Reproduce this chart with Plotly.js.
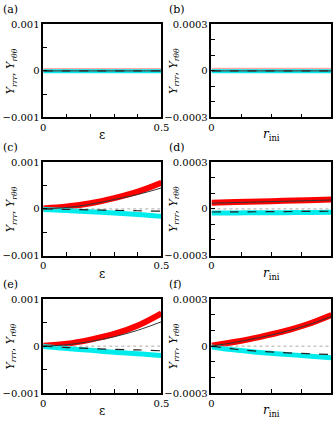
<!DOCTYPE html>
<html>
<head>
<meta charset="utf-8">
<script src="https://cdn.plot.ly/plotly-3.0.1.min.js"></script>
<style>
  html, body { margin: 0; padding: 0; background: #fff; }
  #fig { width: 334px; height: 422px; }
</style>
</head>
<body>
<div id="fig"></div>
<script>
// absis: strain eps dan r_ini
var epsX = [0, 0.1, 0.2, 0.3, 0.4, 0.5];
var rX = [0, 0.2, 0.4, 0.6, 0.8, 1];
var zeroY = [0, 0, 0, 0, 0, 0];

// (a) eps, small
var aRed = [0.000008, 0.000008, 0.000008, 0.000008, 0.000008, 0.000008];
var aCyan = [-0.000008, -0.000008, -0.000008, -0.000008, -0.000008, -0.000008];
var aSolid = [0, 0, 0, 0, 0, 0];
var aDash = [0, 0, 0, 0, 0, 0];
// (b) r_ini, small
var bRed = [0.000004, 0.000004, 0.000004, 0.000004, 0.000004, 0.000004];
var bCyan = [-0.000002, -0.000002, -0.000002, -0.000002, -0.000002, -0.000002];
var bSolid = [0, 0, 0, 0, 0, 0];
var bDash = [0, 0, 0, 0, 0, 0];
// (c)
var cRed = [0.00001, 0.00005, 0.00012, 0.00023, 0.00037, 0.00056];
var cCyan = [-0.00001, -0.000035, -0.00006, -0.00009, -0.00012, -0.00016];
var cSolid = [0, 0.00003, 0.0001, 0.0002, 0.00031, 0.00045];
var cDash = [0, -0.00001, -0.00002, -0.00003, -0.00004, -0.00005];
// (d)
var dRed = [0.00004, 0.000044, 0.000048, 0.000052, 0.000056, 0.00006];
var dCyan = [-0.000027, -0.000026, -0.000025, -0.000024, -0.000023, -0.000022];
var dSolid = [0.000037, 0.000041, 0.000045, 0.000049, 0.000053, 0.000057];
var dDash = [-0.00002, -0.000019, -0.000018, -0.000017, -0.000016, -0.000015];
// (e)
var eRed = [0.00001, 0.00005, 0.00014, 0.00026, 0.00044, 0.0007];
var eCyan = [-0.00001, -0.00005, -0.00009, -0.00013, -0.00016, -0.0002];
var eSolid = [0, 0.00003, 0.0001, 0.0002, 0.00034, 0.00052];
var eDash = [0, -0.00003, -0.00005, -0.00007, -0.00008, -0.0001];
// (f)
var fRed = [0.000002, 0.000028, 0.000058, 0.000094, 0.00014, 0.0002];
var fCyan = [-0.000005, -0.000025, -0.00004, -0.000052, -0.000063, -0.000075];
var fSolid = [0, 0.000025, 0.000055, 0.00009, 0.000135, 0.00019];
var fDash = [0, -0.00002, -0.000033, -0.000042, -0.000048, -0.000054];

// tick positions
var epsTicks = [0, 0.1, 0.2, 0.3, 0.4, 0.5];
var rTicks = [0, 0.25, 0.5, 0.75, 1];
var yEpsTicks = [-0.001, -0.0005, 0, 0.0005, 0.001];
var yRTicks = [-0.0003, -0.0002, -0.0001, 0, 0.0001, 0.0002, 0.0003];

var panels = [
  {x: epsX, red: aRed, cyan: aCyan, solid: aSolid, dash: aDash, ax: ''},
  {x: rX, red: bRed, cyan: bCyan, solid: bSolid, dash: bDash, ax: '2'},
  {x: epsX, red: cRed, cyan: cCyan, solid: cSolid, dash: cDash, ax: '3'},
  {x: rX, red: dRed, cyan: dCyan, solid: dSolid, dash: dDash, ax: '4'},
  {x: epsX, red: eRed, cyan: eCyan, solid: eSolid, dash: eDash, ax: '5'},
  {x: rX, red: fRed, cyan: fCyan, solid: fSolid, dash: fDash, ax: '6'}
];

var data = [];
panels.forEach(function (p, i) {
  var xa = 'x' + p.ax, ya = 'y' + p.ax;
  var faint = i < 2;
  data.push({x: p.x, y: p.red, xaxis: xa, yaxis: ya, mode: 'lines',
    line: {color: '#ff0000', width: faint ? 5 : 6, shape: 'spline'}, opacity: faint ? 0.35 : 1});
  data.push({x: p.x, y: p.cyan, xaxis: xa, yaxis: ya, mode: 'lines',
    line: {color: '#00ecec', width: faint ? 4 : 5, shape: 'spline'}});
  data.push({x: p.x, y: zeroY, xaxis: xa, yaxis: ya, mode: 'lines',
    line: {color: '#aaaaaa', width: 1, dash: 'dot'}});
  data.push({x: p.x, y: p.dash, xaxis: xa, yaxis: ya, mode: 'lines',
    line: {color: '#222222', width: 1.2, dash: 'dash', shape: 'spline'}});
  data.push({x: p.x, y: p.solid, xaxis: xa, yaxis: ya, mode: 'lines',
    line: {color: '#333333', width: 1, shape: 'spline'}});
});

var serif = '"DejaVu Serif"';
var colX = [[0.1296, 0.4835], [0.6332, 0.9925]];
var rowY = [[0.7216, 0.9424], [0.3945, 0.6154], [0.0687, 0.2908]];

var layout = {
  width: 334, height: 422,
  margin: {l: 0, r: 0, t: 0, b: 0},
  paper_bgcolor: '#fff', plot_bgcolor: '#fff',
  showlegend: false,
  font: {family: serif, size: 10, color: '#000'},
  annotations: []
};

var labels = ['(a)', '(b)', '(c)', '(d)', '(e)', '(f)'];
var ytitle = '<i>Y</i><sub><i>rrr</i></sub>, <i>Y</i><sub><i>r\u03b8\u03b8</i></sub>';

panels.forEach(function (p, i) {
  var col = i % 2, row = Math.floor(i / 2);
  var isEps = col === 0;
  var ymax = isEps ? 0.001 : 0.0003;
  layout['xaxis' + p.ax] = {
    domain: colX[col], anchor: 'y' + p.ax,
    range: isEps ? [0, 0.5] : [0, 1],
    tickmode: 'array',
    tickvals: isEps ? [0, 0.5] : [0, 1],
    ticktext: isEps ? ['0', '0.5'] : ['0', '1'],
    ticks: 'inside', ticklen: 4, tickwidth: 1, tickcolor: '#000',
    minor: {tickmode: 'array', tickvals: isEps ? epsTicks : rTicks,
      ticks: 'inside', ticklen: 4, tickwidth: 1, tickcolor: '#000'},
    showline: true, linecolor: '#000', linewidth: 1.5, mirror: true,
    showgrid: false, zeroline: false,
    tickfont: {family: serif, size: 10, color: '#000'}
  };
  layout['yaxis' + p.ax] = {
    domain: rowY[row], anchor: 'x' + p.ax,
    range: [-ymax, ymax],
    tickmode: 'array',
    tickvals: [-ymax, 0, ymax],
    ticktext: isEps ? ['\u22120.001', '0', '0.001'] : ['\u22120.0003', '0', '0.0003'],
    ticks: 'inside', ticklen: 4, tickwidth: 1, tickcolor: '#000',
    minor: {tickmode: 'array', tickvals: isEps ? yEpsTicks : yRTicks,
      ticks: 'inside', ticklen: 4, tickwidth: 1, tickcolor: '#000'},
    showline: true, linecolor: '#000', linewidth: 1.5, mirror: true,
    showgrid: false, zeroline: false,
    tickfont: {family: serif, size: 10, color: '#000'}
  };
  var x0 = colX[col][0], x1 = colX[col][1];
  var yb = rowY[row][0], yt = rowY[row][1];
  // panel label
  layout.annotations.push({text: labels[i], xref: 'paper', yref: 'paper',
    x: isEps ? 1 / 334 : 167 / 334, y: yt + 15 / 422, xanchor: 'left', yanchor: 'middle',
    showarrow: false, font: {family: serif, size: 11, color: '#000'}});
  // x title
  layout.annotations.push({text: isEps ? '\u03b5' : '<i>r</i><sub>ini</sub>',
    xref: 'paper', yref: 'paper', x: (x0 + x1) / 2, y: yb - 18 / 422,
    xanchor: 'center', yanchor: 'middle', showarrow: false,
    font: {family: serif, size: 12, color: '#000'}});
  // y title
  layout.annotations.push({text: ytitle, xref: 'paper', yref: 'paper',
    x: x0 - (isEps ? 32 : 37.5) / 334, y: (yb + yt) / 2, textangle: -90,
    xanchor: 'center', yanchor: 'middle', showarrow: false,
    font: {family: serif, size: 11, color: '#000'}});
});

Plotly.newPlot('fig', data, layout, {displayModeBar: false});
</script>
</body>
</html>
